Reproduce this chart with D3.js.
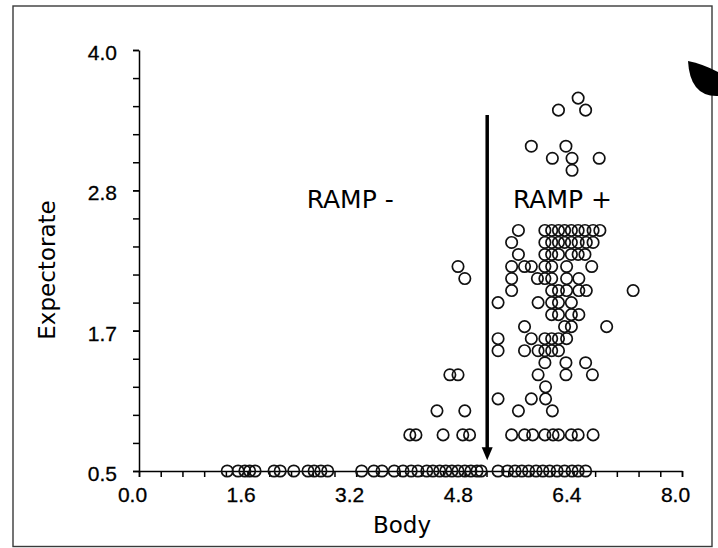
<!DOCTYPE html>
<html>
<head>
<meta charset="utf-8">
<script src="https://cdn.jsdelivr.net/npm/d3@7/dist/d3.min.js"></script>
<style>
  body { margin: 0; background: #fff; }
  svg { display: block; }
</style>
</head>
<body>
<div id="chart"></div>
<script>
// axis ticks
const xTickValues = [0, 1.6, 3.2, 4.8, 6.4, 8.0];
const xTickLabels = ["0.0", "1.6", "3.2", "4.8", "6.4", "8.0"];
const yTickValues = [0.5, 0.5 + 3.5 / 3, 0.5 + 7 / 3, 4.0];
const yTickLabels = ["0.5", "1.7", "2.8", "4.0"];

// data, grouped by Expectorate level
const expectorateLevels = [0.5, 0.8, 1.0, 1.1, 1.2, 1.3, 1.4, 1.5, 1.6, 1.7, 1.8, 1.9,
                           2.0, 2.1, 2.2, 2.3, 2.4, 2.5, 3.0, 3.1, 3.2, 3.5, 3.6];
const bodyAtLevel = [
  [1.30, 1.46, 1.56, 1.63, 1.71, 1.99, 2.08, 2.28, 2.49, 2.58, 2.68, 2.78, 3.28, 3.46, 3.58,
   3.76, 3.89, 4.01, 4.11, 4.24, 4.33, 4.43, 4.52, 4.61, 4.70, 4.80, 4.89, 4.98, 5.04,
   5.29, 5.43, 5.54, 5.64, 5.74, 5.85, 5.95, 6.05, 6.16, 6.27, 6.38, 6.47, 6.58],
  [3.99, 4.08, 4.48, 4.77, 4.87, 5.49, 5.68, 5.80, 5.98, 6.10, 6.18, 6.37, 6.47, 6.69],
  [4.39, 4.80, 5.59, 6.09],
  [5.29, 5.78, 5.99],
  [5.99],
  [4.58, 4.70, 5.88, 6.29, 6.68],
  [5.98, 6.29, 6.58],
  [5.29, 5.68, 5.88, 5.98, 6.08, 6.18],
  [5.29, 5.78, 5.98, 6.08, 6.18, 6.30],
  [5.68, 6.27, 6.37, 6.89],
  [6.08, 6.18, 6.37, 6.48],
  [5.29, 5.88, 6.08, 6.18, 6.37],
  [5.49, 6.08, 6.18, 6.30, 6.48, 6.59, 7.28],
  [4.80, 5.49, 5.87, 5.98, 6.08, 6.30, 6.48],
  [4.70, 5.49, 5.68, 5.78, 5.98, 6.08, 6.30, 6.67],
  [5.59, 5.98, 6.08, 6.18, 6.37, 6.47, 6.57],
  [5.49, 5.98, 6.08, 6.18, 6.27, 6.37, 6.47, 6.59, 6.69],
  [5.59, 5.98, 6.08, 6.18, 6.27, 6.37, 6.47, 6.57, 6.69, 6.79],
  [6.38],
  [6.09, 6.38, 6.78],
  [5.78, 6.29],
  [6.18, 6.58],
  [6.47]
];

// RAMP threshold arrow and labels
const threshold = {body: 5.13, from: 3.46, to: 0.59};
const rampLabels = ["RAMP -", "RAMP +"];
const rampBody = [2.47, 5.51];
const rampLevel = 2.69;

const width = 718, height = 548;
const margin = {top: 50, right: 36, bottom: 77, left: 139};

const svg = d3.select("#chart").append("svg")
    .attr("width", width)
    .attr("height", height);

// page frame
svg.append("rect")
    .attr("x", 13).attr("y", 6)
    .attr("width", 699).attr("height", 540.5)
    .attr("fill", "none")
    .attr("stroke", "#3a3a3a")
    .attr("stroke-width", 1.4);

// scanner smudge top right
svg.append("path")
    .attr("d", "M688,61 Q703,64 718,72 L718,96 Q690,97 688,61 Z")
    .attr("fill", "#000");

const x = d3.scaleLinear().domain([0, 8]).range([margin.left, 682]);
const y = d3.scaleLinear().domain([0.5, 4.0]).range([height - margin.bottom, margin.top]);

// minor ticks
const xMinor = d3.range(0, 26).map(i => i * 0.32);
const yMinor = d3.range(0, 16).map(i => 0.5 + i * 3.5 / 15);

svg.append("g")
    .attr("transform", "translate(0," + y(0.5) + ")")
    .call(d3.axisBottom(x).tickValues(xMinor).tickFormat("").tickSize(6).tickSizeOuter(0));

svg.append("g")
    .attr("class", "major")
    .attr("transform", "translate(0," + y(0.5) + ")")
    .call(d3.axisBottom(x).tickValues(xTickValues).tickSize(6).tickPadding(10)
        .tickFormat((d, i) => xTickLabels[i]))
    .call(g => g.select(".domain").remove())
    .selectAll("text").attr("dx", -7);

svg.append("g")
    .attr("transform", "translate(" + x(0) + ",0)")
    .call(d3.axisLeft(y).tickValues(yMinor).tickFormat("").tickSize(6).tickSizeOuter(0));

svg.append("g")
    .attr("class", "major")
    .attr("transform", "translate(" + x(0) + ",0)")
    .call(d3.axisLeft(y).tickValues(yTickValues).tickSize(6).tickPadding(16)
        .tickFormat((d, i) => yTickLabels[i]))
    .call(g => g.select(".domain").remove())
    .selectAll("text").attr("dy", "0.45em");

svg.selectAll(".domain, .tick line")
    .attr("stroke", "#000")
    .attr("stroke-width", 1.5);
svg.selectAll("g.major")
    .attr("font-family", "'Liberation Sans', Arial, sans-serif")
    .attr("font-size", 21);
svg.selectAll("g.major .tick text")
    .attr("fill", "#000")
    .attr("stroke", "#000")
    .attr("stroke-width", 0.3);

// points
const points = [];
expectorateLevels.forEach((lv, i) => {
  bodyAtLevel[i].forEach(b => points.push({body: b, expectorate: lv}));
});

svg.append("g").selectAll("circle")
    .data(points)
    .enter().append("circle")
    .attr("cx", d => x(d.body))
    .attr("cy", d => y(d.expectorate))
    .attr("r", 5.7)
    .attr("fill", "none")
    .attr("stroke", "#111")
    .attr("stroke-width", 1.7);

// threshold arrow
svg.append("line")
    .attr("x1", x(threshold.body)).attr("x2", x(threshold.body))
    .attr("y1", y(threshold.from)).attr("y2", y(threshold.to) - 10)
    .attr("stroke", "#000")
    .attr("stroke-width", 3.5);
svg.append("path")
    .attr("d", "M" + (x(threshold.body) - 5.5) + "," + (y(threshold.to) - 13) +
               "L" + (x(threshold.body) + 5.5) + "," + (y(threshold.to) - 13) +
               "L" + x(threshold.body) + "," + y(threshold.to) + "Z")
    .attr("fill", "#000");

svg.selectAll(".ramp")
    .data(rampLabels)
    .enter().append("text")
    .attr("class", "ramp")
    .attr("x", (d, i) => x(rampBody[i]))
    .attr("y", y(rampLevel))
    .attr("font-family", "'DejaVu Sans', Verdana, sans-serif")
    .attr("font-size", 25)
    .attr("fill", "#000")
    .text(d => d);

// axis titles
svg.append("text")
    .attr("x", 402).attr("y", 533)
    .attr("text-anchor", "middle")
    .attr("font-family", "'DejaVu Sans', Verdana, sans-serif")
    .attr("font-size", 23)
    .text("Body");

svg.append("text")
    .attr("transform", "translate(55,270) rotate(-90)")
    .attr("text-anchor", "middle")
    .attr("font-family", "'DejaVu Sans', Verdana, sans-serif")
    .attr("font-size", 23)
    .text("Expectorate");
</script>
</body>
</html>
